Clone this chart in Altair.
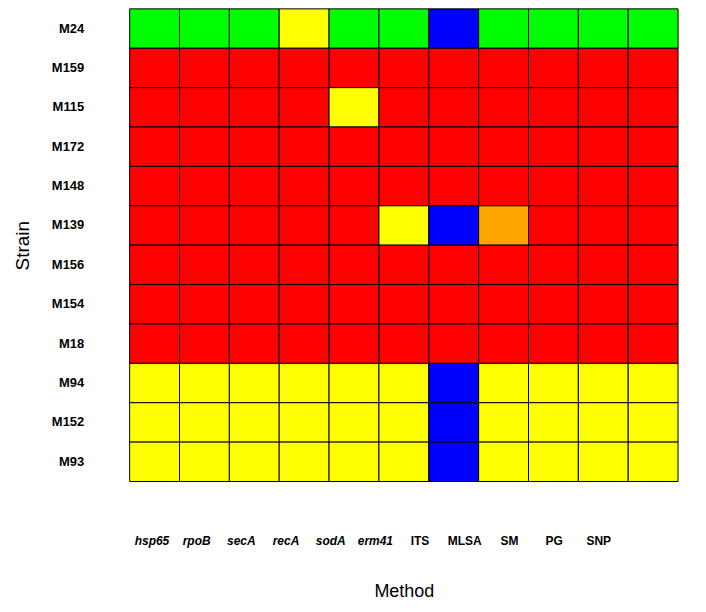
import altair as alt
import pandas as pd

strains = ["M24", "M159", "M115", "M172", "M148", "M139",
           "M156", "M154", "M18", "M94", "M152", "M93"]
methods = ["hsp65", "rpoB", "secA", "recA", "sodA", "erm41",
           "ITS", "MLSA", "SM", "PG", "SNP"]
italic_methods = ["hsp65", "rpoB", "secA", "recA", "sodA", "erm41"]

# G = green, R = red, Y = yellow, B = blue, O = orange
row_M24 = ["G", "G", "G", "Y", "G", "G", "B", "G", "G", "G", "G"]
row_M159 = ["R"] * 11
row_M115 = ["R", "R", "R", "R", "Y", "R", "R", "R", "R", "R", "R"]
row_M172 = ["R"] * 11
row_M148 = ["R"] * 11
row_M139 = ["R", "R", "R", "R", "R", "Y", "B", "O", "R", "R", "R"]
row_M156 = ["R"] * 11
row_M154 = ["R"] * 11
row_M18 = ["R"] * 11
row_M94 = ["Y", "Y", "Y", "Y", "Y", "Y", "B", "Y", "Y", "Y", "Y"]
row_M152 = ["Y", "Y", "Y", "Y", "Y", "Y", "B", "Y", "Y", "Y", "Y"]
row_M93 = ["Y", "Y", "Y", "Y", "Y", "Y", "B", "Y", "Y", "Y", "Y"]

rows = [row_M24, row_M159, row_M115, row_M172, row_M148, row_M139,
        row_M156, row_M154, row_M18, row_M94, row_M152, row_M93]

codes = ["G", "R", "Y", "B", "O"]
palette = ["#00FF00", "#FF0000", "#FFFF00", "#0000FF", "#FFA500"]

records = []
for s, r in zip(strains, rows):
    for m, c in zip(methods, r):
        records.append({"Strain": s, "Method": m, "Code": c})
df = pd.DataFrame(records)

font = "Liberation Sans"

cells = alt.Chart(df).mark_rect(stroke="black", strokeWidth=1).encode(
    x=alt.X("Method:N", sort=methods, axis=None,
            scale=alt.Scale(paddingInner=0, paddingOuter=0)),
    y=alt.Y("Strain:N", sort=strains,
            scale=alt.Scale(paddingInner=0, paddingOuter=0),
            axis=alt.Axis(title="Strain", domain=False, ticks=False,
                          labelPadding=46, labelFont=font, labelFontSize=13,
                          labelFontWeight="bold", labelColor="black",
                          titleFont=font, titleFontSize=19,
                          titleFontWeight="normal", titleColor="black",
                          titlePadding=19)),
    color=alt.Color("Code:N", scale=alt.Scale(domain=codes, range=palette),
                    legend=None),
)

italic_test = "indexof(" + str(italic_methods) + ", datum.value) >= 0"

labels = alt.Chart(df).mark_tick(opacity=0).encode(
    x=alt.X("Method:N", sort=methods,
            scale=alt.Scale(paddingInner=0, paddingOuter=0.638, align=0),
            axis=alt.Axis(title="Method", orient="bottom", domain=False,
                          ticks=False, labelAngle=0, labelPadding=54,
                          labelFont=font, labelFontSize=12,
                          labelFontWeight="bold", labelColor="black",
                          labelFontStyle={"condition": {"test": italic_test,
                                                        "value": "italic"},
                                          "value": "normal"},
                          titleFont=font, titleFontSize=18,
                          titleFontWeight="normal", titleColor="black",
                          titlePadding=36)),
)

chart = alt.layer(cells, labels).resolve_scale(x="independent").properties(
    width=550, height=474,
    autosize=alt.AutoSizeParams(type="none"),
    padding={"left": 122, "top": 0, "right": 20, "bottom": 128},
).configure_view(stroke=None)

chart.save("out.html", embed_options={"renderer": "svg", "actions": False})
